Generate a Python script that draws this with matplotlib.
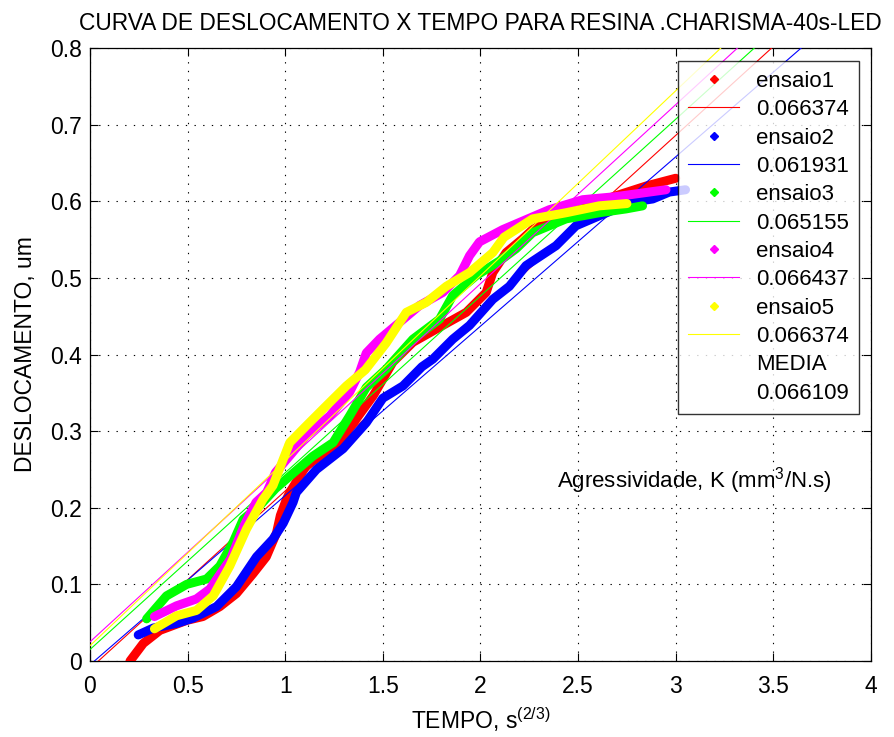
import numpy as np
import matplotlib
matplotlib.use('Agg')
import matplotlib.pyplot as plt
from matplotlib.lines import Line2D

plt.rcParams['font.family'] = ['Liberation Sans', 'DejaVu Sans']
plt.rcParams['mathtext.fontset'] = 'custom'
plt.rcParams['mathtext.rm'] = 'Liberation Sans'
plt.rcParams['mathtext.it'] = 'Liberation Sans'

# ensaio curves: displacement (um) vs time^(2/3)
x1 = [0.205, 0.273, 0.358, 0.495, 0.578, 0.665, 0.75, 0.835, 0.903, 0.955, 0.975, 1.006, 1.023,
      1.108, 1.279, 1.364, 1.45, 1.551, 1.654, 1.807, 1.927, 2.029, 2.063, 2.131, 2.216, 2.267,
      2.438, 2.574, 2.728, 2.85, 3.0]
y1 = [0.0, 0.023, 0.04, 0.053, 0.058, 0.071, 0.088, 0.114, 0.136, 0.167, 0.19, 0.211, 0.22,
      0.255, 0.285, 0.316, 0.346, 0.39, 0.416, 0.438, 0.455, 0.481, 0.507, 0.533, 0.551, 0.563,
      0.589, 0.597, 0.61, 0.62, 0.63]

x2 = [0.247, 0.324, 0.443, 0.528, 0.648, 0.75, 0.853, 0.937, 0.99, 1.04, 1.057, 1.16, 1.296,
      1.415, 1.5, 1.603, 1.7, 1.756, 1.858, 1.944, 2.063, 2.148, 2.233, 2.387, 2.489, 2.608,
      2.779, 2.882, 2.967, 3.05]
y2 = [0.034, 0.043, 0.049, 0.056, 0.071, 0.097, 0.136, 0.159, 0.18, 0.207, 0.22, 0.25, 0.277,
      0.311, 0.343, 0.359, 0.384, 0.394, 0.42, 0.438, 0.472, 0.489, 0.516, 0.542, 0.568, 0.581,
      0.599, 0.603, 0.612, 0.615]

x3 = [0.29, 0.392, 0.495, 0.597, 0.665, 0.733, 0.785, 0.87, 0.95, 1.04, 1.14, 1.245, 1.33,
      1.415, 1.517, 1.654, 1.79, 1.858, 1.978, 2.097, 2.182, 2.267, 2.438, 2.608, 2.745, 2.83]
y3 = [0.055, 0.085, 0.10, 0.107, 0.124, 0.155, 0.185, 0.203, 0.225, 0.245, 0.267, 0.285, 0.32,
      0.357, 0.381, 0.42, 0.446, 0.477, 0.503, 0.522, 0.538, 0.559, 0.577, 0.585, 0.59, 0.594]

x4 = [0.33, 0.443, 0.545, 0.614, 0.72, 0.79, 0.85, 0.905, 0.95, 1.03, 1.108, 1.228, 1.33,
      1.381, 1.415, 1.483, 1.586, 1.688, 1.807, 1.893, 1.944, 1.995, 2.114, 2.353, 2.523, 2.694,
      2.95]
y4 = [0.058, 0.072, 0.081, 0.094, 0.133, 0.177, 0.207, 0.22, 0.246, 0.27, 0.294, 0.32, 0.351,
      0.377, 0.402, 0.42, 0.442, 0.464, 0.481, 0.503, 0.529, 0.547, 0.563, 0.589, 0.602, 0.606,
      0.615]

x5 = [0.33, 0.443, 0.545, 0.631, 0.716, 0.801, 0.886, 0.937, 1.023, 1.108, 1.21, 1.313, 1.41,
      1.517, 1.62, 1.722, 1.825, 1.944, 2.063, 2.12, 2.267, 2.438, 2.608, 2.75]
y5 = [0.042, 0.059, 0.066, 0.085, 0.124, 0.172, 0.211, 0.229, 0.285, 0.307, 0.333, 0.359, 0.38,
      0.415, 0.455, 0.468, 0.489, 0.507, 0.533, 0.553, 0.577, 0.585, 0.594, 0.597]

# linear fits (slope, intercept) for each ensaio
slopes = [0.232, 0.221, 0.2307, 0.2337, 0.2414]
intercepts = [-0.01, -0.005, 0.015, 0.025, 0.02]

k_labels = ['0.066374', '0.061931', '0.065155', '0.066437', '0.066374']
names = ['ensaio1', 'ensaio2', 'ensaio3', 'ensaio4', 'ensaio5']
media_label = '0.066109'
cores = ['#ff0000', '#0000ff', '#00ff00', '#ff00ff', '#ffff00']

xs = [x1, x2, x3, x4, x5]
ys = [y1, y2, y3, y4, y5]

fig = plt.figure(figsize=(8.95, 7.37), dpi=100)
ax = fig.add_axes([90/895, 1-661/737, 781/895, 613/737])

xfit = np.array([0.0, 4.0])
handles = []
labels = []
for i in range(5):
    ax.plot(xs[i], ys[i], '-', color=cores[i], lw=6.5, solid_joinstyle='round',
            solid_capstyle='round', zorder=3)
    ax.plot(xfit, slopes[i]*xfit + intercepts[i], '-', color=cores[i], lw=0.8, zorder=3)
    handles.append(Line2D([], [], ls='none', marker='D', ms=4, color=cores[i]))
    handles.append(Line2D([], [], ls='-', lw=0.8, color=cores[i]))
    labels += [names[i], k_labels[i]]
handles += [Line2D([], [], ls='none'), Line2D([], [], ls='none')]
labels += ['MEDIA', media_label]

ax.set_xlim(0, 4)
ax.set_ylim(0, 0.8)
ax.set_xticks(np.arange(0, 4.01, 0.5))
ax.set_xticklabels(['0', '0.5', '1', '1.5', '2', '2.5', '3', '3.5', '4'])
ax.set_yticks(np.arange(0, 0.81, 0.1))
ax.set_yticklabels(['0', '0.1', '0.2', '0.3', '0.4', '0.5', '0.6', '0.7', '0.8'])
ax.tick_params(direction='in', length=6, width=0.8, top=True, right=True,
               labelsize=16.5, pad=6)
ax.tick_params(axis='x', pad=10)
ax.grid(True, color='k', lw=0.8, linestyle=(0, (1.2, 6.6)))
for s in ax.spines.values():
    s.set_linewidth(0.9)

ax.set_title('CURVA DE DESLOCAMENTO X TEMPO PARA RESINA .CHARISMA-40s-LED',
             fontsize=16.4, pad=13)
ax.set_xlabel('TEMPO, s$^{(2/3)}$', fontsize=16.5, labelpad=5)
ax.set_ylabel('DESLOCAMENTO, um', fontsize=16.5, labelpad=9)

ax.text(2.39, 0.236, 'Agressividade, K (mm$^3$/N.s)', fontsize=16, va='center', ha='left')

leg = ax.legend(handles, labels, loc='upper right', bbox_to_anchor=(0.9845, 0.979),
                fontsize=16, frameon=True, fancybox=False, edgecolor='k',
                handlelength=2.3, handletextpad=0.75, labelspacing=0.33,
                borderpad=0.45, borderaxespad=0)
leg.get_frame().set_linewidth(1.0)
leg.set_zorder(5)

fig.savefig('out.png', dpi=100, facecolor='white')
